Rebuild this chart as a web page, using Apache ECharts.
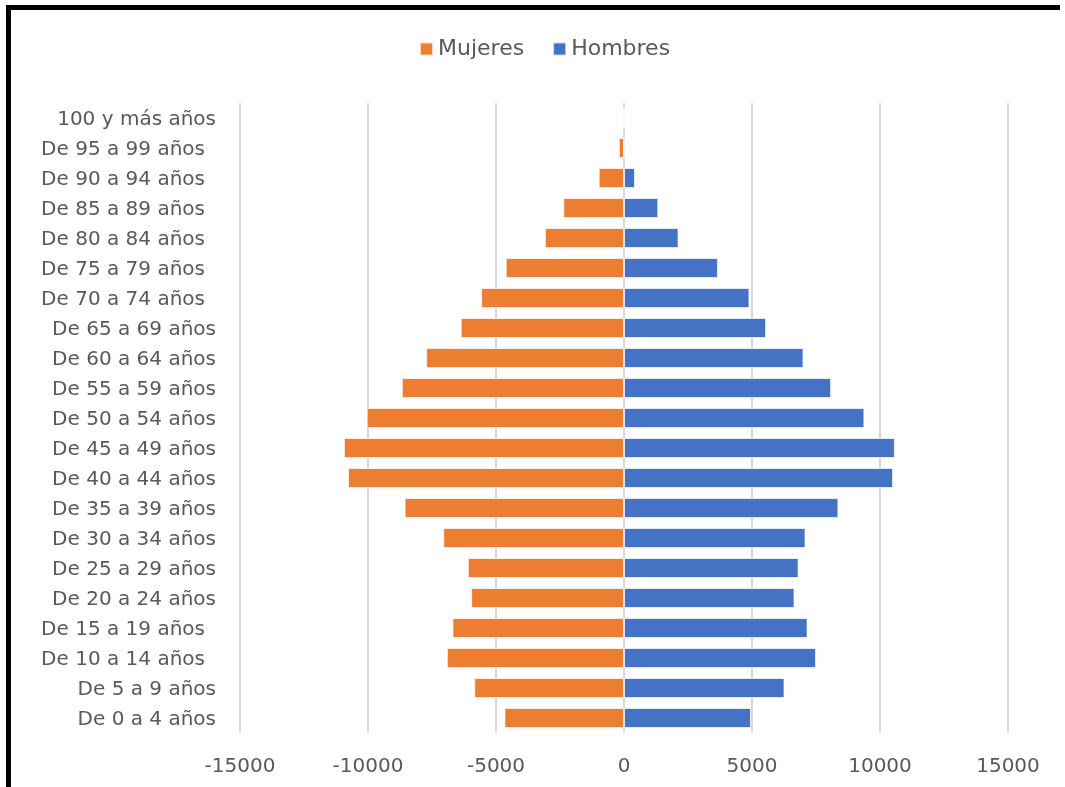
<!DOCTYPE html>
<html>
<head>
<meta charset="utf-8">
<script src="https://cdn.jsdelivr.net/npm/echarts@6/dist/echarts.min.js"></script>
<style>
html,body{margin:0;padding:0;background:#fff;}
#chart{width:1065px;height:787px;}
</style>
</head>
<body>
<div id="chart"></div>
<script>
// Age groups, youngest first (bottom of the pyramid). Trailing spaces as in the source sheet.
const categories = [
  'De 0 a 4 años', 'De 5 a 9 años', 'De 10 a 14 años ', 'De 15 a 19 años ',
  'De 20 a 24 años', 'De 25 a 29 años', 'De 30 a 34 años', 'De 35 a 39 años',
  'De 40 a 44 años', 'De 45 a 49 años', 'De 50 a 54 años', 'De 55 a 59 años',
  'De 60 a 64 años', 'De 65 a 69 años', 'De 70 a 74 años ', 'De 75 a 79 años ',
  'De 80 a 84 años ', 'De 85 a 89 años ', 'De 90 a 94 años ', 'De 95 a 99 años ',
  '100 y más años'
];
const mujeres = [
  -4670, -5850, -6920, -6700, -5970, -6100, -7060, -8570, -10780, -10940,
  -10050, -8680, -7730, -6380, -5580, -4620, -3090, -2370, -990, -200, 0
];
const hombres = [
  4960, 6270, 7500, 7170, 6660, 6820, 7090, 8375, 10510, 10580,
  9390, 8090, 7010, 5550, 4900, 3670, 2130, 1340, 430, 0, 0
];
const seriesNames = ['Mujeres', 'Hombres'];
const xTicks = { min: -15000, max: 15000, interval: 5000 };

const FONT = 'DejaVu Sans';
const TXT = '#595959';
const chart = echarts.init(document.getElementById('chart'), null, { renderer: 'canvas' });
chart.setOption({
  backgroundColor: '#ffffff',
  animation: false,
  color: ['#ED7D31', '#4472C4'],
  graphic: [
    { type: 'rect', left: 6, top: 5, shape: { width: 5, height: 782 }, style: { fill: '#000' } },
    { type: 'rect', left: 6, top: 5, shape: { width: 1054, height: 5 }, style: { fill: '#000' } }
  ],
  legend: {
    data: seriesNames,
    left: 414,
    top: 33,
    itemWidth: 13,
    itemHeight: 13,
    itemGap: 28,
    icon: 'rect',
    textStyle: { fontFamily: FONT, fontSize: 22, color: TXT }
  },
  grid: { left: 240, right: 57, top: 103, bottom: 54, containLabel: false },
  xAxis: {
    type: 'value',
    min: xTicks.min,
    max: xTicks.max,
    interval: xTicks.interval,
    axisLine: { show: false },
    axisTick: { show: false },
    splitLine: { show: true, lineStyle: { color: '#d9d9d9', width: 2 } },
    axisLabel: {
      margin: 24,
      fontFamily: FONT, fontSize: 20, color: TXT,
      formatter: v => String(v)
    }
  },
  yAxis: {
    type: 'category',
    data: categories,
    axisLine: { show: false },
    axisTick: { show: false },
    axisLabel: {
      margin: 24,
      fontFamily: FONT, fontSize: 20, color: TXT,
      formatter: v => / $/.test(v) ? '{p|' + v.trim() + '}' : '{n|' + v + '}',
      rich: {
        n: { fontFamily: FONT, fontSize: 20, color: TXT, padding: [4, 0, 0, 0] },
        p: { fontFamily: FONT, fontSize: 20, color: TXT, padding: [4, 11, 0, 0] }
      }
    }
  },
  series: [
    {
      name: seriesNames[0], type: 'bar', data: mujeres,
      barWidth: 20, barGap: '-100%',
      itemStyle: { borderColor: 'rgba(255,255,255,0.7)', borderWidth: 1 }
    },
    {
      name: seriesNames[1], type: 'bar', data: hombres,
      barWidth: 20, barGap: '-100%',
      itemStyle: { borderColor: 'rgba(255,255,255,0.7)', borderWidth: 1 }
    }
  ]
});
</script>
</body>
</html>
